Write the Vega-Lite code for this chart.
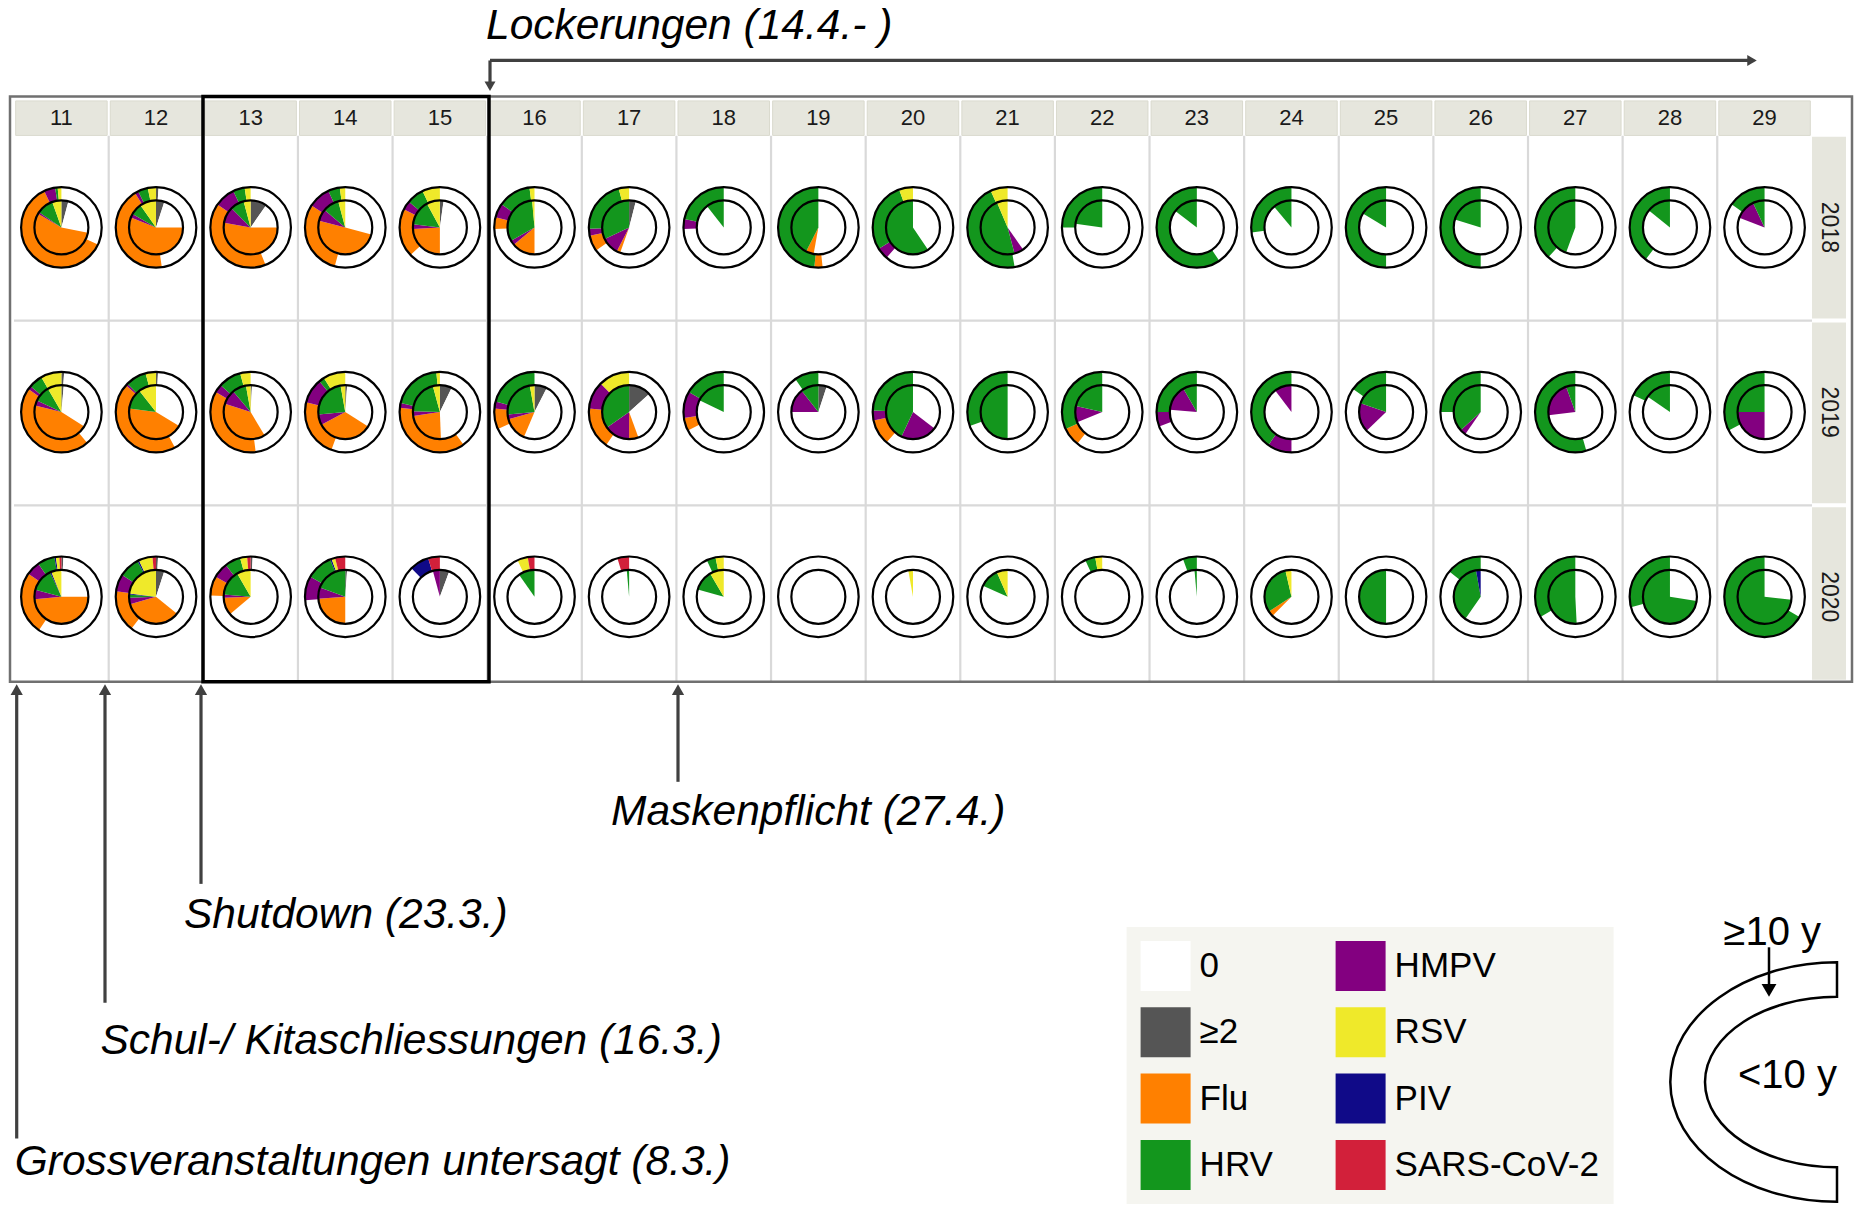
{
"$schema":"https://vega.github.io/schema/vega-lite/v6.json",
"width":1858,"height":1206,"padding":0,
"autosize":{"type":"fit","contains":"padding"},
"background":"white",
"config":{"view":{"stroke":null}},
"datasets":{
"cats":[{"c":"≥2","ord":0},{"c":"0","ord":1},{"c":"Flu","ord":2},{"c":"HMPV","ord":3},{"c":"HRV","ord":4},{"c":"PIV","ord":5},{"c":"RSV","ord":6},{"c":"SARS-CoV-2","ord":7}],
"weeks":[{"w":11},{"w":12},{"w":13},{"w":14},{"w":15},{"w":16},{"w":17},{"w":18},{"w":19},{"w":20},{"w":21},{"w":22},{"w":23},{"w":24},{"w":25},{"w":26},{"w":27},{"w":28},{"w":29}],
"years":[{"yr":2018},{"yr":2019},{"yr":2020}],
"pies":[
{"w":11,"yr":2018,"r":"o","c":"0","v":0.32},{"w":11,"yr":2018,"r":"o","c":"Flu","v":0.61},{"w":11,"yr":2018,"r":"o","c":"HMPV","v":0.045},{"w":11,"yr":2018,"r":"o","c":"HRV","v":0.01},{"w":11,"yr":2018,"r":"o","c":"RSV","v":0.015},
{"w":11,"yr":2018,"r":"i","c":"≥2","v":0.042},{"w":11,"yr":2018,"r":"i","c":"0","v":0.24},{"w":11,"yr":2018,"r":"i","c":"Flu","v":0.553},{"w":11,"yr":2018,"r":"i","c":"HMPV","v":0.01},{"w":11,"yr":2018,"r":"i","c":"HRV","v":0.1},{"w":11,"yr":2018,"r":"i","c":"RSV","v":0.055},
{"w":12,"yr":2018,"r":"o","c":"≥2","v":0.01},{"w":12,"yr":2018,"r":"o","c":"0","v":0.467},{"w":12,"yr":2018,"r":"o","c":"Flu","v":0.436},{"w":12,"yr":2018,"r":"o","c":"HMPV","v":0.014},{"w":12,"yr":2018,"r":"o","c":"HRV","v":0.04},{"w":12,"yr":2018,"r":"o","c":"RSV","v":0.033},
{"w":12,"yr":2018,"r":"i","c":"≥2","v":0.05},{"w":12,"yr":2018,"r":"i","c":"0","v":0.2},{"w":12,"yr":2018,"r":"i","c":"Flu","v":0.56},{"w":12,"yr":2018,"r":"i","c":"HMPV","v":0.022},{"w":12,"yr":2018,"r":"i","c":"HRV","v":0.07},{"w":12,"yr":2018,"r":"i","c":"RSV","v":0.098},
{"w":13,"yr":2018,"r":"o","c":"0","v":0.44},{"w":13,"yr":2018,"r":"o","c":"Flu","v":0.406},{"w":13,"yr":2018,"r":"o","c":"HMPV","v":0.083},{"w":13,"yr":2018,"r":"o","c":"HRV","v":0.047},{"w":13,"yr":2018,"r":"o","c":"RSV","v":0.024},
{"w":13,"yr":2018,"r":"i","c":"≥2","v":0.097},{"w":13,"yr":2018,"r":"i","c":"0","v":0.153},{"w":13,"yr":2018,"r":"i","c":"Flu","v":0.528},{"w":13,"yr":2018,"r":"i","c":"HMPV","v":0.097},{"w":13,"yr":2018,"r":"i","c":"HRV","v":0.083},{"w":13,"yr":2018,"r":"i","c":"RSV","v":0.042},
{"w":14,"yr":2018,"r":"o","c":"0","v":0.542},{"w":14,"yr":2018,"r":"o","c":"Flu","v":0.3},{"w":14,"yr":2018,"r":"o","c":"HMPV","v":0.089},{"w":14,"yr":2018,"r":"o","c":"HRV","v":0.047},{"w":14,"yr":2018,"r":"o","c":"RSV","v":0.022},
{"w":14,"yr":2018,"r":"i","c":"0","v":0.292},{"w":14,"yr":2018,"r":"i","c":"Flu","v":0.497},{"w":14,"yr":2018,"r":"i","c":"HMPV","v":0.072},{"w":14,"yr":2018,"r":"i","c":"HRV","v":0.097},{"w":14,"yr":2018,"r":"i","c":"RSV","v":0.042},
{"w":15,"yr":2018,"r":"o","c":"0","v":0.63},{"w":15,"yr":2018,"r":"o","c":"Flu","v":0.194},{"w":15,"yr":2018,"r":"o","c":"HMPV","v":0.036},{"w":15,"yr":2018,"r":"o","c":"HRV","v":0.069},{"w":15,"yr":2018,"r":"o","c":"RSV","v":0.071},
{"w":15,"yr":2018,"r":"i","c":"≥2","v":0.022},{"w":15,"yr":2018,"r":"i","c":"0","v":0.478},{"w":15,"yr":2018,"r":"i","c":"Flu","v":0.24},{"w":15,"yr":2018,"r":"i","c":"HMPV","v":0.028},{"w":15,"yr":2018,"r":"i","c":"HRV","v":0.153},{"w":15,"yr":2018,"r":"i","c":"RSV","v":0.079},
{"w":16,"yr":2018,"r":"o","c":"0","v":0.744},{"w":16,"yr":2018,"r":"o","c":"Flu","v":0.047},{"w":16,"yr":2018,"r":"o","c":"HMPV","v":0.056},{"w":16,"yr":2018,"r":"o","c":"HRV","v":0.133},{"w":16,"yr":2018,"r":"o","c":"RSV","v":0.02},
{"w":16,"yr":2018,"r":"i","c":"0","v":0.5},{"w":16,"yr":2018,"r":"i","c":"Flu","v":0.139},{"w":16,"yr":2018,"r":"i","c":"HMPV","v":0.028},{"w":16,"yr":2018,"r":"i","c":"HRV","v":0.319},{"w":16,"yr":2018,"r":"i","c":"RSV","v":0.014},
{"w":17,"yr":2018,"r":"o","c":"0","v":0.653},{"w":17,"yr":2018,"r":"o","c":"Flu","v":0.064},{"w":17,"yr":2018,"r":"o","c":"HMPV","v":0.028},{"w":17,"yr":2018,"r":"o","c":"HRV","v":0.213},{"w":17,"yr":2018,"r":"o","c":"RSV","v":0.042},
{"w":17,"yr":2018,"r":"i","c":"≥2","v":0.04},{"w":17,"yr":2018,"r":"i","c":"0","v":0.514},{"w":17,"yr":2018,"r":"i","c":"Flu","v":0.022},{"w":17,"yr":2018,"r":"i","c":"HMPV","v":0.103},{"w":17,"yr":2018,"r":"i","c":"HRV","v":0.321},
{"w":18,"yr":2018,"r":"o","c":"0","v":0.744},{"w":18,"yr":2018,"r":"o","c":"HMPV","v":0.039},{"w":18,"yr":2018,"r":"o","c":"HRV","v":0.217},
{"w":18,"yr":2018,"r":"i","c":"0","v":0.894},{"w":18,"yr":2018,"r":"i","c":"HRV","v":0.106},
{"w":19,"yr":2018,"r":"o","c":"0","v":0.483},{"w":19,"yr":2018,"r":"o","c":"Flu","v":0.033},{"w":19,"yr":2018,"r":"o","c":"HRV","v":0.484},
{"w":19,"yr":2018,"r":"i","c":"0","v":0.528},{"w":19,"yr":2018,"r":"i","c":"Flu","v":0.047},{"w":19,"yr":2018,"r":"i","c":"HRV","v":0.425},
{"w":20,"yr":2018,"r":"o","c":"0","v":0.614},{"w":20,"yr":2018,"r":"o","c":"HMPV","v":0.047},{"w":20,"yr":2018,"r":"o","c":"HRV","v":0.283},{"w":20,"yr":2018,"r":"o","c":"RSV","v":0.056},
{"w":20,"yr":2018,"r":"i","c":"0","v":0.406},{"w":20,"yr":2018,"r":"i","c":"HRV","v":0.594},
{"w":21,"yr":2018,"r":"o","c":"0","v":0.472},{"w":21,"yr":2018,"r":"o","c":"HRV","v":0.459},{"w":21,"yr":2018,"r":"o","c":"RSV","v":0.069},
{"w":21,"yr":2018,"r":"i","c":"0","v":0.403},{"w":21,"yr":2018,"r":"i","c":"HMPV","v":0.056},{"w":21,"yr":2018,"r":"i","c":"HRV","v":0.477},{"w":21,"yr":2018,"r":"i","c":"RSV","v":0.064},
{"w":22,"yr":2018,"r":"o","c":"0","v":0.75},{"w":22,"yr":2018,"r":"o","c":"HRV","v":0.25},
{"w":22,"yr":2018,"r":"i","c":"0","v":0.772},{"w":22,"yr":2018,"r":"i","c":"HRV","v":0.228},
{"w":23,"yr":2018,"r":"o","c":"0","v":0.406},{"w":23,"yr":2018,"r":"o","c":"HRV","v":0.594},
{"w":23,"yr":2018,"r":"i","c":"0","v":0.853},{"w":23,"yr":2018,"r":"i","c":"HRV","v":0.147},
{"w":24,"yr":2018,"r":"o","c":"0","v":0.73},{"w":24,"yr":2018,"r":"o","c":"HRV","v":0.27},
{"w":24,"yr":2018,"r":"i","c":"0","v":0.889},{"w":24,"yr":2018,"r":"i","c":"HRV","v":0.111},
{"w":25,"yr":2018,"r":"o","c":"0","v":0.5},{"w":25,"yr":2018,"r":"o","c":"HRV","v":0.5},
{"w":25,"yr":2018,"r":"i","c":"0","v":0.836},{"w":25,"yr":2018,"r":"i","c":"HRV","v":0.164},
{"w":26,"yr":2018,"r":"o","c":"0","v":0.5},{"w":26,"yr":2018,"r":"o","c":"HRV","v":0.5},
{"w":26,"yr":2018,"r":"i","c":"0","v":0.797},{"w":26,"yr":2018,"r":"i","c":"HRV","v":0.203},
{"w":27,"yr":2018,"r":"o","c":"0","v":0.617},{"w":27,"yr":2018,"r":"o","c":"HRV","v":0.383},
{"w":27,"yr":2018,"r":"i","c":"0","v":0.556},{"w":27,"yr":2018,"r":"i","c":"HRV","v":0.444},
{"w":28,"yr":2018,"r":"o","c":"0","v":0.603},{"w":28,"yr":2018,"r":"o","c":"HRV","v":0.397},
{"w":28,"yr":2018,"r":"i","c":"0","v":0.858},{"w":28,"yr":2018,"r":"i","c":"HRV","v":0.142},
{"w":29,"yr":2018,"r":"o","c":"0","v":0.847},{"w":29,"yr":2018,"r":"o","c":"HRV","v":0.153},
{"w":29,"yr":2018,"r":"i","c":"0","v":0.808},{"w":29,"yr":2018,"r":"i","c":"HMPV","v":0.122},{"w":29,"yr":2018,"r":"i","c":"HRV","v":0.07},
{"w":11,"yr":2019,"r":"o","c":"≥2","v":0.011},{"w":11,"yr":2019,"r":"o","c":"0","v":0.378},{"w":11,"yr":2019,"r":"o","c":"Flu","v":0.458},{"w":11,"yr":2019,"r":"o","c":"HMPV","v":0.014},{"w":11,"yr":2019,"r":"o","c":"HRV","v":0.056},{"w":11,"yr":2019,"r":"o","c":"RSV","v":0.083},
{"w":11,"yr":2019,"r":"i","c":"≥2","v":0.014},{"w":11,"yr":2019,"r":"i","c":"0","v":0.325},{"w":11,"yr":2019,"r":"i","c":"Flu","v":0.45},{"w":11,"yr":2019,"r":"i","c":"HMPV","v":0.031},{"w":11,"yr":2019,"r":"i","c":"HRV","v":0.097},{"w":11,"yr":2019,"r":"i","c":"RSV","v":0.083},
{"w":12,"yr":2019,"r":"o","c":"≥2","v":0.008},{"w":12,"yr":2019,"r":"o","c":"0","v":0.414},{"w":12,"yr":2019,"r":"o","c":"Flu","v":0.444},{"w":12,"yr":2019,"r":"o","c":"HMPV","v":0.008},{"w":12,"yr":2019,"r":"o","c":"HRV","v":0.084},{"w":12,"yr":2019,"r":"o","c":"RSV","v":0.042},
{"w":12,"yr":2019,"r":"i","c":"0","v":0.336},{"w":12,"yr":2019,"r":"i","c":"Flu","v":0.436},{"w":12,"yr":2019,"r":"i","c":"HRV","v":0.122},{"w":12,"yr":2019,"r":"i","c":"RSV","v":0.106},
{"w":13,"yr":2019,"r":"o","c":"0","v":0.48},{"w":13,"yr":2019,"r":"o","c":"Flu","v":0.353},{"w":13,"yr":2019,"r":"o","c":"HMPV","v":0.033},{"w":13,"yr":2019,"r":"o","c":"HRV","v":0.092},{"w":13,"yr":2019,"r":"o","c":"RSV","v":0.042},
{"w":13,"yr":2019,"r":"i","c":"≥2","v":0.008},{"w":13,"yr":2019,"r":"i","c":"0","v":0.406},{"w":13,"yr":2019,"r":"i","c":"Flu","v":0.386},{"w":13,"yr":2019,"r":"i","c":"HMPV","v":0.089},{"w":13,"yr":2019,"r":"i","c":"HRV","v":0.083},{"w":13,"yr":2019,"r":"i","c":"RSV","v":0.028},
{"w":14,"yr":2019,"r":"o","c":"0","v":0.556},{"w":14,"yr":2019,"r":"o","c":"Flu","v":0.233},{"w":14,"yr":2019,"r":"o","c":"HMPV","v":0.1},{"w":14,"yr":2019,"r":"o","c":"HRV","v":0.022},{"w":14,"yr":2019,"r":"o","c":"RSV","v":0.089},
{"w":14,"yr":2019,"r":"i","c":"≥2","v":0.011},{"w":14,"yr":2019,"r":"i","c":"0","v":0.328},{"w":14,"yr":2019,"r":"i","c":"Flu","v":0.333},{"w":14,"yr":2019,"r":"i","c":"HMPV","v":0.064},{"w":14,"yr":2019,"r":"i","c":"HRV","v":0.236},{"w":14,"yr":2019,"r":"i","c":"RSV","v":0.028},
{"w":15,"yr":2019,"r":"o","c":"0","v":0.4},{"w":15,"yr":2019,"r":"o","c":"Flu","v":0.367},{"w":15,"yr":2019,"r":"o","c":"HMPV","v":0.019},{"w":15,"yr":2019,"r":"o","c":"HRV","v":0.2},{"w":15,"yr":2019,"r":"o","c":"RSV","v":0.014},
{"w":15,"yr":2019,"r":"i","c":"≥2","v":0.072},{"w":15,"yr":2019,"r":"i","c":"0","v":0.422},{"w":15,"yr":2019,"r":"i","c":"Flu","v":0.233},{"w":15,"yr":2019,"r":"i","c":"HMPV","v":0.028},{"w":15,"yr":2019,"r":"i","c":"HRV","v":0.203},{"w":15,"yr":2019,"r":"i","c":"RSV","v":0.042},
{"w":16,"yr":2019,"r":"o","c":"0","v":0.681},{"w":16,"yr":2019,"r":"o","c":"Flu","v":0.083},{"w":16,"yr":2019,"r":"o","c":"HMPV","v":0.028},{"w":16,"yr":2019,"r":"o","c":"HRV","v":0.208},
{"w":16,"yr":2019,"r":"i","c":"≥2","v":0.075},{"w":16,"yr":2019,"r":"i","c":"0","v":0.489},{"w":16,"yr":2019,"r":"i","c":"Flu","v":0.144},{"w":16,"yr":2019,"r":"i","c":"HMPV","v":0.028},{"w":16,"yr":2019,"r":"i","c":"HRV","v":0.236},{"w":16,"yr":2019,"r":"i","c":"RSV","v":0.028},
{"w":17,"yr":2019,"r":"o","c":"0","v":0.597},{"w":17,"yr":2019,"r":"o","c":"Flu","v":0.167},{"w":17,"yr":2019,"r":"o","c":"HMPV","v":0.111},{"w":17,"yr":2019,"r":"o","c":"RSV","v":0.125},
{"w":17,"yr":2019,"r":"i","c":"≥2","v":0.133},{"w":17,"yr":2019,"r":"i","c":"0","v":0.311},{"w":17,"yr":2019,"r":"i","c":"Flu","v":0.056},{"w":17,"yr":2019,"r":"i","c":"HMPV","v":0.153},{"w":17,"yr":2019,"r":"i","c":"HRV","v":0.347},
{"w":18,"yr":2019,"r":"o","c":"0","v":0.674},{"w":18,"yr":2019,"r":"o","c":"Flu","v":0.053},{"w":18,"yr":2019,"r":"o","c":"HMPV","v":0.106},{"w":18,"yr":2019,"r":"o","c":"HRV","v":0.167},
{"w":18,"yr":2019,"r":"i","c":"0","v":0.822},{"w":18,"yr":2019,"r":"i","c":"HRV","v":0.178},
{"w":19,"yr":2019,"r":"o","c":"0","v":0.903},{"w":19,"yr":2019,"r":"o","c":"HRV","v":0.097},
{"w":19,"yr":2019,"r":"i","c":"≥2","v":0.05},{"w":19,"yr":2019,"r":"i","c":"0","v":0.7},{"w":19,"yr":2019,"r":"i","c":"HMPV","v":0.144},{"w":19,"yr":2019,"r":"i","c":"HRV","v":0.106},
{"w":20,"yr":2019,"r":"o","c":"0","v":0.614},{"w":20,"yr":2019,"r":"o","c":"Flu","v":0.103},{"w":20,"yr":2019,"r":"o","c":"HMPV","v":0.039},{"w":20,"yr":2019,"r":"o","c":"HRV","v":0.244},
{"w":20,"yr":2019,"r":"i","c":"0","v":0.353},{"w":20,"yr":2019,"r":"i","c":"HMPV","v":0.217},{"w":20,"yr":2019,"r":"i","c":"HRV","v":0.43},
{"w":21,"yr":2019,"r":"o","c":"0","v":0.694},{"w":21,"yr":2019,"r":"o","c":"HRV","v":0.306},
{"w":21,"yr":2019,"r":"i","c":"0","v":0.5},{"w":21,"yr":2019,"r":"i","c":"HRV","v":0.5},
{"w":22,"yr":2019,"r":"o","c":"0","v":0.606},{"w":22,"yr":2019,"r":"o","c":"Flu","v":0.075},{"w":22,"yr":2019,"r":"o","c":"HRV","v":0.319},
{"w":22,"yr":2019,"r":"i","c":"0","v":0.689},{"w":22,"yr":2019,"r":"i","c":"HMPV","v":0.097},{"w":22,"yr":2019,"r":"i","c":"HRV","v":0.214},
{"w":23,"yr":2019,"r":"o","c":"0","v":0.692},{"w":23,"yr":2019,"r":"o","c":"HMPV","v":0.058},{"w":23,"yr":2019,"r":"o","c":"HRV","v":0.25},
{"w":23,"yr":2019,"r":"i","c":"0","v":0.764},{"w":23,"yr":2019,"r":"i","c":"HMPV","v":0.153},{"w":23,"yr":2019,"r":"i","c":"HRV","v":0.083},
{"w":24,"yr":2019,"r":"o","c":"0","v":0.5},{"w":24,"yr":2019,"r":"o","c":"HMPV","v":0.097},{"w":24,"yr":2019,"r":"o","c":"HRV","v":0.403},
{"w":24,"yr":2019,"r":"i","c":"0","v":0.897},{"w":24,"yr":2019,"r":"i","c":"HMPV","v":0.103},
{"w":25,"yr":2019,"r":"o","c":"0","v":0.847},{"w":25,"yr":2019,"r":"o","c":"HRV","v":0.153},
{"w":25,"yr":2019,"r":"i","c":"0","v":0.628},{"w":25,"yr":2019,"r":"i","c":"HMPV","v":0.175},{"w":25,"yr":2019,"r":"i","c":"HRV","v":0.197},
{"w":26,"yr":2019,"r":"o","c":"0","v":0.75},{"w":26,"yr":2019,"r":"o","c":"HRV","v":0.25},
{"w":26,"yr":2019,"r":"i","c":"0","v":0.597},{"w":26,"yr":2019,"r":"i","c":"HMPV","v":0.036},{"w":26,"yr":2019,"r":"i","c":"HRV","v":0.367},
{"w":27,"yr":2019,"r":"o","c":"0","v":0.456},{"w":27,"yr":2019,"r":"o","c":"HRV","v":0.544},
{"w":27,"yr":2019,"r":"i","c":"0","v":0.731},{"w":27,"yr":2019,"r":"i","c":"HMPV","v":0.214},{"w":27,"yr":2019,"r":"i","c":"HRV","v":0.055},
{"w":28,"yr":2019,"r":"o","c":"0","v":0.819},{"w":28,"yr":2019,"r":"o","c":"HRV","v":0.181},
{"w":28,"yr":2019,"r":"i","c":"0","v":0.847},{"w":28,"yr":2019,"r":"i","c":"HRV","v":0.153},
{"w":29,"yr":2019,"r":"o","c":"0","v":0.675},{"w":29,"yr":2019,"r":"o","c":"HRV","v":0.325},
{"w":29,"yr":2019,"r":"i","c":"0","v":0.5},{"w":29,"yr":2019,"r":"i","c":"HMPV","v":0.25},{"w":29,"yr":2019,"r":"i","c":"HRV","v":0.25},
{"w":11,"yr":2020,"r":"o","c":"≥2","v":0.008},{"w":11,"yr":2020,"r":"o","c":"0","v":0.586},{"w":11,"yr":2020,"r":"o","c":"Flu","v":0.253},{"w":11,"yr":2020,"r":"o","c":"HMPV","v":0.056},{"w":11,"yr":2020,"r":"o","c":"HRV","v":0.069},{"w":11,"yr":2020,"r":"o","c":"PIV","v":0.006},{"w":11,"yr":2020,"r":"o","c":"RSV","v":0.014},{"w":11,"yr":2020,"r":"o","c":"SARS-CoV-2","v":0.008},
{"w":11,"yr":2020,"r":"i","c":"0","v":0.25},{"w":11,"yr":2020,"r":"i","c":"Flu","v":0.486},{"w":11,"yr":2020,"r":"i","c":"HMPV","v":0.056},{"w":11,"yr":2020,"r":"i","c":"HRV","v":0.139},{"w":11,"yr":2020,"r":"i","c":"PIV","v":0.008},{"w":11,"yr":2020,"r":"i","c":"RSV","v":0.061},
{"w":12,"yr":2020,"r":"o","c":"≥2","v":0.008},{"w":12,"yr":2020,"r":"o","c":"0","v":0.597},{"w":12,"yr":2020,"r":"o","c":"Flu","v":0.167},{"w":12,"yr":2020,"r":"o","c":"HMPV","v":0.069},{"w":12,"yr":2020,"r":"o","c":"HRV","v":0.083},{"w":12,"yr":2020,"r":"o","c":"PIV","v":0.006},{"w":12,"yr":2020,"r":"o","c":"RSV","v":0.056},{"w":12,"yr":2020,"r":"o","c":"SARS-CoV-2","v":0.014},
{"w":12,"yr":2020,"r":"i","c":"≥2","v":0.05},{"w":12,"yr":2020,"r":"i","c":"0","v":0.308},{"w":12,"yr":2020,"r":"i","c":"Flu","v":0.347},{"w":12,"yr":2020,"r":"i","c":"HMPV","v":0.039},{"w":12,"yr":2020,"r":"i","c":"HRV","v":0.019},{"w":12,"yr":2020,"r":"i","c":"PIV","v":0.006},{"w":12,"yr":2020,"r":"i","c":"RSV","v":0.231},
{"w":13,"yr":2020,"r":"o","c":"≥2","v":0.008},{"w":13,"yr":2020,"r":"o","c":"0","v":0.747},{"w":13,"yr":2020,"r":"o","c":"Flu","v":0.078},{"w":13,"yr":2020,"r":"o","c":"HMPV","v":0.061},{"w":13,"yr":2020,"r":"o","c":"HRV","v":0.064},{"w":13,"yr":2020,"r":"o","c":"RSV","v":0.028},{"w":13,"yr":2020,"r":"o","c":"SARS-CoV-2","v":0.014},
{"w":13,"yr":2020,"r":"i","c":"0","v":0.639},{"w":13,"yr":2020,"r":"i","c":"Flu","v":0.106},{"w":13,"yr":2020,"r":"i","c":"HMPV","v":0.019},{"w":13,"yr":2020,"r":"i","c":"HRV","v":0.153},{"w":13,"yr":2020,"r":"i","c":"RSV","v":0.083},
{"w":14,"yr":2020,"r":"o","c":"0","v":0.736},{"w":14,"yr":2020,"r":"o","c":"HMPV","v":0.097},{"w":14,"yr":2020,"r":"o","c":"HRV","v":0.106},{"w":14,"yr":2020,"r":"o","c":"PIV","v":0.006},{"w":14,"yr":2020,"r":"o","c":"RSV","v":0.014},{"w":14,"yr":2020,"r":"o","c":"SARS-CoV-2","v":0.041},
{"w":14,"yr":2020,"r":"i","c":"≥2","v":0.011},{"w":14,"yr":2020,"r":"i","c":"0","v":0.489},{"w":14,"yr":2020,"r":"i","c":"Flu","v":0.239},{"w":14,"yr":2020,"r":"i","c":"HMPV","v":0.067},{"w":14,"yr":2020,"r":"i","c":"HRV","v":0.194},
{"w":15,"yr":2020,"r":"o","c":"0","v":0.875},{"w":15,"yr":2020,"r":"o","c":"PIV","v":0.078},{"w":15,"yr":2020,"r":"o","c":"SARS-CoV-2","v":0.047},
{"w":15,"yr":2020,"r":"i","c":"≥2","v":0.056},{"w":15,"yr":2020,"r":"i","c":"0","v":0.902},{"w":15,"yr":2020,"r":"i","c":"HMPV","v":0.042},
{"w":16,"yr":2020,"r":"o","c":"0","v":0.931},{"w":16,"yr":2020,"r":"o","c":"RSV","v":0.042},{"w":16,"yr":2020,"r":"o","c":"SARS-CoV-2","v":0.027},
{"w":16,"yr":2020,"r":"i","c":"0","v":0.903},{"w":16,"yr":2020,"r":"i","c":"HRV","v":0.097},
{"w":17,"yr":2020,"r":"o","c":"0","v":0.953},{"w":17,"yr":2020,"r":"o","c":"SARS-CoV-2","v":0.047},
{"w":17,"yr":2020,"r":"i","c":"0","v":0.986},{"w":17,"yr":2020,"r":"i","c":"HRV","v":0.014},
{"w":18,"yr":2020,"r":"o","c":"0","v":0.931},{"w":18,"yr":2020,"r":"o","c":"HRV","v":0.036},{"w":18,"yr":2020,"r":"o","c":"RSV","v":0.033},
{"w":18,"yr":2020,"r":"i","c":"0","v":0.794},{"w":18,"yr":2020,"r":"i","c":"HRV","v":0.122},{"w":18,"yr":2020,"r":"i","c":"RSV","v":0.084},
{"w":19,"yr":2020,"r":"o","c":"0","v":1},
{"w":19,"yr":2020,"r":"i","c":"0","v":1},
{"w":20,"yr":2020,"r":"o","c":"0","v":1},
{"w":20,"yr":2020,"r":"i","c":"0","v":0.972},{"w":20,"yr":2020,"r":"i","c":"RSV","v":0.028},
{"w":21,"yr":2020,"r":"o","c":"0","v":1},
{"w":21,"yr":2020,"r":"i","c":"0","v":0.817},{"w":21,"yr":2020,"r":"i","c":"HRV","v":0.117},{"w":21,"yr":2020,"r":"i","c":"RSV","v":0.066},
{"w":22,"yr":2020,"r":"o","c":"0","v":0.931},{"w":22,"yr":2020,"r":"o","c":"HRV","v":0.041},{"w":22,"yr":2020,"r":"o","c":"RSV","v":0.028},
{"w":22,"yr":2020,"r":"i","c":"0","v":1},
{"w":23,"yr":2020,"r":"o","c":"0","v":0.944},{"w":23,"yr":2020,"r":"o","c":"HRV","v":0.056},
{"w":23,"yr":2020,"r":"i","c":"0","v":0.986},{"w":23,"yr":2020,"r":"i","c":"HRV","v":0.014},
{"w":24,"yr":2020,"r":"o","c":"0","v":1},
{"w":24,"yr":2020,"r":"i","c":"0","v":0.625},{"w":24,"yr":2020,"r":"i","c":"Flu","v":0.033},{"w":24,"yr":2020,"r":"i","c":"HRV","v":0.306},{"w":24,"yr":2020,"r":"i","c":"RSV","v":0.036},
{"w":25,"yr":2020,"r":"o","c":"0","v":1},
{"w":25,"yr":2020,"r":"i","c":"0","v":0.5},{"w":25,"yr":2020,"r":"i","c":"HRV","v":0.5},
{"w":26,"yr":2020,"r":"o","c":"0","v":0.858},{"w":26,"yr":2020,"r":"o","c":"HRV","v":0.142},
{"w":26,"yr":2020,"r":"i","c":"0","v":0.597},{"w":26,"yr":2020,"r":"i","c":"HRV","v":0.375},{"w":26,"yr":2020,"r":"i","c":"PIV","v":0.028},
{"w":27,"yr":2020,"r":"o","c":"0","v":0.667},{"w":27,"yr":2020,"r":"o","c":"HRV","v":0.333},
{"w":27,"yr":2020,"r":"i","c":"0","v":0.492},{"w":27,"yr":2020,"r":"i","c":"HRV","v":0.508},
{"w":28,"yr":2020,"r":"o","c":"0","v":0.708},{"w":28,"yr":2020,"r":"o","c":"HRV","v":0.292},
{"w":28,"yr":2020,"r":"i","c":"0","v":0.275},{"w":28,"yr":2020,"r":"i","c":"HRV","v":0.725},
{"w":29,"yr":2020,"r":"o","c":"0","v":0.333},{"w":29,"yr":2020,"r":"o","c":"HRV","v":0.667},
{"w":29,"yr":2020,"r":"i","c":"0","v":0.267},{"w":29,"yr":2020,"r":"i","c":"HRV","v":0.733}
]},
"layer":[
{"data":{"name":"weeks"},"transform":[{"filter":"datum.w < 29"}],
 "mark":{"type":"rule","xOffset":47.31,"stroke":"#d9d9d9","strokeWidth":2.2},
 "encoding":{"x":{"field":"w","type":"quantitative","scale":{"domain":[10.3511,29.9875],"nice":false,"zero":false},"axis":null},
  "y":{"datum":2017.5038,"type":"quantitative","scale":{"domain":[2016.7688,2023.2388],"reverse":true,"nice":false,"zero":false},"axis":null},
  "y2":{"datum":2020.4598}}},
{"data":{"name":"years"},"transform":[{"filter":"datum.yr < 2020"}],
 "mark":{"type":"rule","yOffset":93.2,"stroke":"#d9d9d9","strokeWidth":2.2},
 "encoding":{"y":{"field":"yr","type":"quantitative","scale":{"domain":[2016.7688,2023.2388],"reverse":true,"nice":false,"zero":false},"axis":null},
  "x":{"datum":10.4991,"type":"quantitative","scale":{"domain":[10.3511,29.9875],"nice":false,"zero":false},"axis":null},
  "x2":{"datum":29.5014}}},
{"data":{"name":"weeks"},
 "mark":{"type":"rect","width":91.5,"height":34.5,"fill":"#e6e6dd","stroke":"#dadace","strokeWidth":1},
 "encoding":{"x":{"field":"w","type":"quantitative","scale":{"domain":[10.3511,29.9875],"nice":false,"zero":false},"axis":null},
  "y":{"datum":2017.4086,"type":"quantitative","scale":{"domain":[2016.7688,2023.2388],"reverse":true,"nice":false,"zero":false},"axis":null}}},
{"data":{"name":"weeks"},
 "mark":{"type":"text","font":"Liberation Sans","fontSize":22,"color":"#1a1a1a","align":"center","baseline":"middle"},
 "encoding":{"x":{"field":"w","type":"quantitative","scale":{"domain":[10.3511,29.9875],"nice":false,"zero":false},"axis":null},
  "y":{"datum":2017.4086,"type":"quantitative","scale":{"domain":[2016.7688,2023.2388],"reverse":true,"nice":false,"zero":false},"axis":null},
  "text":{"field":"w","type":"nominal"}}},
{"data":{"values":[{}]},
 "mark":{"type":"rect","fill":"#e6e6dd"},
 "encoding":{"x":{"datum":29.5014,"type":"quantitative","scale":{"domain":[10.3511,29.9875],"nice":false,"zero":false},"axis":null},"x2":{"datum":29.8607},
  "y":{"datum":2017.5091,"type":"quantitative","scale":{"domain":[2016.7688,2023.2388],"reverse":true,"nice":false,"zero":false},"axis":null},"y2":{"datum":2020.4491}}},
{"data":{"name":"years"},"transform":[{"filter":"datum.yr < 2020"}],
 "mark":{"type":"rule","yOffset":93.2,"stroke":"#ffffff","strokeWidth":4},
 "encoding":{"y":{"field":"yr","type":"quantitative","scale":{"domain":[2016.7688,2023.2388],"reverse":true,"nice":false,"zero":false},"axis":null},
  "x":{"datum":29.5014,"type":"quantitative","scale":{"domain":[10.3511,29.9875],"nice":false,"zero":false},"axis":null},
  "x2":{"datum":29.8607}}},
{"data":{"name":"years"},
 "mark":{"type":"text","font":"Liberation Sans","fontSize":23,"color":"#1a1a1a","align":"center","baseline":"middle","angle":90},
 "encoding":{"x":{"datum":29.6811,"type":"quantitative","scale":{"domain":[10.3511,29.9875],"nice":false,"zero":false},"axis":null},
  "y":{"field":"yr","type":"quantitative","scale":{"domain":[2016.7688,2023.2388],"reverse":true,"nice":false,"zero":false},"axis":null},
  "text":{"field":"yr","type":"nominal"}}},
{"data":{"name":"pies"},
 "transform":[{"filter":"datum.r === 'o'"},{"lookup":"c","from":{"data":{"name":"cats"},"key":"c","fields":["ord"]}},
  {"stack":"v","groupby":["w","yr"],"sort":[{"field":"ord","order":"ascending"}],"as":["t0","t1"],"offset":"normalize"}],
 "mark":{"type":"arc","radius":40.3,"radius2":27},
 "encoding":{"x":{"field":"w","type":"quantitative","scale":{"domain":[10.3511,29.9875],"nice":false,"zero":false},"axis":null},
  "y":{"field":"yr","type":"quantitative","scale":{"domain":[2016.7688,2023.2388],"reverse":true,"nice":false,"zero":false},"axis":null},
  "theta":{"field":"t0","type":"quantitative","scale":{"domain":[0,1],"range":[0,6.283185]},"stack":null},
  "theta2":{"field":"t1"},
  "color":{"field":"c","type":"nominal",
   "scale":{"domain":["0","≥2","Flu","HRV","HMPV","RSV","PIV","SARS-CoV-2"],"range":["#ffffff","#555555","#ff8000","#13961d","#830080","#efe92a","#100a88","#d2203a"]},
   "legend":{"title":null,"orient":"none","legendX":1126.6,"legendY":927,"columns":2,"symbolType":"square","symbolSize":2500,"symbolStrokeWidth":0,"symbolOpacity":1,"labelFont":"Liberation Sans","labelFontSize":35,"labelColor":"#000000","labelOffset":9,"rowPadding":16.3,"columnPadding":62,"padding":14,"fillColor":"#f5f5f0","labelLimit":400}}}},
{"data":{"name":"pies"},
 "transform":[{"filter":"datum.r === 'i'"},{"lookup":"c","from":{"data":{"name":"cats"},"key":"c","fields":["ord"]}},
  {"stack":"v","groupby":["w","yr"],"sort":[{"field":"ord","order":"ascending"}],"as":["t0","t1"],"offset":"normalize"}],
 "mark":{"type":"arc","radius":27,"radius2":0},
 "encoding":{"x":{"field":"w","type":"quantitative","scale":{"domain":[10.3511,29.9875],"nice":false,"zero":false},"axis":null},
  "y":{"field":"yr","type":"quantitative","scale":{"domain":[2016.7688,2023.2388],"reverse":true,"nice":false,"zero":false},"axis":null},
  "theta":{"field":"t0","type":"quantitative","scale":{"domain":[0,1],"range":[0,6.283185]},"stack":null},
  "theta2":{"field":"t1"},
  "color":{"field":"c","type":"nominal",
   "scale":{"domain":["0","≥2","Flu","HRV","HMPV","RSV","PIV","SARS-CoV-2"],"range":["#ffffff","#555555","#ff8000","#13961d","#830080","#efe92a","#100a88","#d2203a"]},
   "legend":{"title":null,"orient":"none","legendX":1126.6,"legendY":927,"columns":2,"symbolType":"square","symbolSize":2500,"symbolStrokeWidth":0,"symbolOpacity":1,"labelFont":"Liberation Sans","labelFontSize":35,"labelColor":"#000000","labelOffset":9,"rowPadding":16.3,"columnPadding":62,"padding":14,"fillColor":"#f5f5f0","labelLimit":400}}}},
{"data":{"name":"pies"},"transform":[{"aggregate":[{"op":"count","as":"n"}],"groupby":["w","yr"]}],
 "mark":{"type":"point","shape":"circle","size":6496,"filled":false,"stroke":"#000000","strokeWidth":2.2,"opacity":1},
 "encoding":{"x":{"field":"w","type":"quantitative","scale":{"domain":[10.3511,29.9875],"nice":false,"zero":false},"axis":null},
  "y":{"field":"yr","type":"quantitative","scale":{"domain":[2016.7688,2023.2388],"reverse":true,"nice":false,"zero":false},"axis":null}}},
{"data":{"name":"pies"},"transform":[{"aggregate":[{"op":"count","as":"n"}],"groupby":["w","yr"]}],
 "mark":{"type":"point","shape":"circle","size":2916,"filled":false,"stroke":"#000000","strokeWidth":2.2,"opacity":1},
 "encoding":{"x":{"field":"w","type":"quantitative","scale":{"domain":[10.3511,29.9875],"nice":false,"zero":false},"axis":null},
  "y":{"field":"yr","type":"quantitative","scale":{"domain":[2016.7688,2023.2388],"reverse":true,"nice":false,"zero":false},"axis":null}}},
{"data":{"values":[{}]},
 "mark":{"type":"rect","fillOpacity":0,"stroke":"#707070","strokeWidth":2.5},
 "encoding":{"x":{"datum":10.4568,"type":"quantitative","scale":{"domain":[10.3511,29.9875],"nice":false,"zero":false},"axis":null},"x2":{"datum":29.9241},
  "y":{"datum":2017.2919,"type":"quantitative","scale":{"domain":[2016.7688,2023.2388],"reverse":true,"nice":false,"zero":false},"axis":null},"y2":{"datum":2020.4598}}},
{"data":{"values":[{}]},
 "mark":{"type":"rect","fillOpacity":0,"stroke":"#000000","strokeWidth":3.5},
 "encoding":{"x":{"datum":12.4965,"type":"quantitative","scale":{"domain":[10.3511,29.9875],"nice":false,"zero":false},"axis":null},"x2":{"datum":15.5191},
  "y":{"datum":2017.2919,"type":"quantitative","scale":{"domain":[2016.7688,2023.2388],"reverse":true,"nice":false,"zero":false},"axis":null},"y2":{"datum":2020.4598}}},
{"data":{"values":[{}]},"mark":{"type":"rule","stroke":"#404040","strokeWidth":3.2},
 "encoding":{"x":{"datum":15.5297,"type":"quantitative","scale":{"domain":[10.3511,29.9875],"nice":false,"zero":false},"axis":null},
  "y":{"datum":2017.0961,"type":"quantitative","scale":{"domain":[2016.7688,2023.2388],"reverse":true,"nice":false,"zero":false},"axis":null},"y2":{"datum":2017.2355}}},
{"data":{"values":[{}]},"mark":{"type":"rule","stroke":"#404040","strokeWidth":3.2},
 "encoding":{"x":{"datum":15.5297,"type":"quantitative","scale":{"domain":[10.3511,29.9875],"nice":false,"zero":false},"axis":null},"x2":{"datum":28.8673},
  "y":{"datum":2017.0961,"type":"quantitative","scale":{"domain":[2016.7688,2023.2388],"reverse":true,"nice":false,"zero":false},"axis":null}}},
{"data":{"values":[{}]},"mark":{"type":"point","shape":"triangle-down","size":120,"filled":true,"color":"#404040","opacity":1},
 "encoding":{"x":{"datum":15.5297,"type":"quantitative","scale":{"domain":[10.3511,29.9875],"nice":false,"zero":false},"axis":null},
  "y":{"datum":2017.2355,"type":"quantitative","scale":{"domain":[2016.7688,2023.2388],"reverse":true,"nice":false,"zero":false},"axis":null}}},
{"data":{"values":[{}]},"mark":{"type":"point","shape":"triangle-right","size":120,"filled":true,"color":"#404040","opacity":1},
 "encoding":{"x":{"datum":28.8673,"type":"quantitative","scale":{"domain":[10.3511,29.9875],"nice":false,"zero":false},"axis":null},
  "y":{"datum":2017.0961,"type":"quantitative","scale":{"domain":[2016.7688,2023.2388],"reverse":true,"nice":false,"zero":false},"axis":null}}},
{"data":{"values":[{}]},"mark":{"type":"rule","stroke":"#404040","strokeWidth":3.2},
 "encoding":{"x":{"datum":10.5276,"type":"quantitative","scale":{"domain":[10.3511,29.9875],"nice":false,"zero":false},"axis":null},
  "y":{"datum":2020.5027,"type":"quantitative","scale":{"domain":[2016.7688,2023.2388],"reverse":true,"nice":false,"zero":false},"axis":null},"y2":{"datum":2022.933}}},
{"data":{"values":[{}]},"mark":{"type":"rule","stroke":"#404040","strokeWidth":3.2},
 "encoding":{"x":{"datum":11.4608,"type":"quantitative","scale":{"domain":[10.3511,29.9875],"nice":false,"zero":false},"axis":null},
  "y":{"datum":2020.5027,"type":"quantitative","scale":{"domain":[2016.7688,2023.2388],"reverse":true,"nice":false,"zero":false},"axis":null},"y2":{"datum":2022.198}}},
{"data":{"values":[{}]},"mark":{"type":"rule","stroke":"#404040","strokeWidth":3.2},
 "encoding":{"x":{"datum":12.4754,"type":"quantitative","scale":{"domain":[10.3511,29.9875],"nice":false,"zero":false},"axis":null},
  "y":{"datum":2020.5027,"type":"quantitative","scale":{"domain":[2016.7688,2023.2388],"reverse":true,"nice":false,"zero":false},"axis":null},"y2":{"datum":2021.5543}}},
{"data":{"values":[{}]},"mark":{"type":"rule","stroke":"#404040","strokeWidth":3.2},
 "encoding":{"x":{"datum":17.5166,"type":"quantitative","scale":{"domain":[10.3511,29.9875],"nice":false,"zero":false},"axis":null},
  "y":{"datum":2020.5027,"type":"quantitative","scale":{"domain":[2016.7688,2023.2388],"reverse":true,"nice":false,"zero":false},"axis":null},"y2":{"datum":2021.0017}}},
{"data":{"values":[{}]},"mark":{"type":"point","shape":"triangle-up","size":150,"filled":true,"color":"#404040","opacity":1},
 "encoding":{"x":{"datum":10.5276,"type":"quantitative","scale":{"domain":[10.3511,29.9875],"nice":false,"zero":false},"axis":null},
  "y":{"datum":2020.5027,"type":"quantitative","scale":{"domain":[2016.7688,2023.2388],"reverse":true,"nice":false,"zero":false},"axis":null}}},
{"data":{"values":[{}]},"mark":{"type":"point","shape":"triangle-up","size":150,"filled":true,"color":"#404040","opacity":1},
 "encoding":{"x":{"datum":11.4608,"type":"quantitative","scale":{"domain":[10.3511,29.9875],"nice":false,"zero":false},"axis":null},
  "y":{"datum":2020.5027,"type":"quantitative","scale":{"domain":[2016.7688,2023.2388],"reverse":true,"nice":false,"zero":false},"axis":null}}},
{"data":{"values":[{}]},"mark":{"type":"point","shape":"triangle-up","size":150,"filled":true,"color":"#404040","opacity":1},
 "encoding":{"x":{"datum":12.4754,"type":"quantitative","scale":{"domain":[10.3511,29.9875],"nice":false,"zero":false},"axis":null},
  "y":{"datum":2020.5027,"type":"quantitative","scale":{"domain":[2016.7688,2023.2388],"reverse":true,"nice":false,"zero":false},"axis":null}}},
{"data":{"values":[{}]},"mark":{"type":"point","shape":"triangle-up","size":150,"filled":true,"color":"#404040","opacity":1},
 "encoding":{"x":{"datum":17.5166,"type":"quantitative","scale":{"domain":[10.3511,29.9875],"nice":false,"zero":false},"axis":null},
  "y":{"datum":2020.5027,"type":"quantitative","scale":{"domain":[2016.7688,2023.2388],"reverse":true,"nice":false,"zero":false},"axis":null}}},
{"data":{"values":[{}]},"mark":{"type":"text","text":"Lockerungen (14.4.- )","font":"Liberation Sans","fontStyle":"italic","fontSize":42.5,"align":"left","baseline":"alphabetic","color":"#000000"},
 "encoding":{"x":{"datum":15.4874,"type":"quantitative","scale":{"domain":[10.3511,29.9875],"nice":false,"zero":false},"axis":null},
  "y":{"datum":2016.978,"type":"quantitative","scale":{"domain":[2016.7688,2023.2388],"reverse":true,"nice":false,"zero":false},"axis":null}}},
{"data":{"values":[{}]},"mark":{"type":"text","text":"Maskenpflicht (27.4.)","font":"Liberation Sans","fontStyle":"italic","fontSize":42.5,"align":"left","baseline":"alphabetic","color":"#000000"},
 "encoding":{"x":{"datum":16.8085,"type":"quantitative","scale":{"domain":[10.3511,29.9875],"nice":false,"zero":false},"axis":null},
  "y":{"datum":2021.2377,"type":"quantitative","scale":{"domain":[2016.7688,2023.2388],"reverse":true,"nice":false,"zero":false},"axis":null}}},
{"data":{"values":[{}]},"mark":{"type":"text","text":"Shutdown (23.3.)","font":"Liberation Sans","fontStyle":"italic","fontSize":42.5,"align":"left","baseline":"alphabetic","color":"#000000"},
 "encoding":{"x":{"datum":12.2957,"type":"quantitative","scale":{"domain":[10.3511,29.9875],"nice":false,"zero":false},"axis":null},
  "y":{"datum":2021.7957,"type":"quantitative","scale":{"domain":[2016.7688,2023.2388],"reverse":true,"nice":false,"zero":false},"axis":null}}},
{"data":{"values":[{}]},"mark":{"type":"text","text":"Schul-/ Kitaschliessungen (16.3.)","font":"Liberation Sans","fontStyle":"italic","fontSize":42.5,"align":"left","baseline":"alphabetic","color":"#000000"},
 "encoding":{"x":{"datum":11.4132,"type":"quantitative","scale":{"domain":[10.3511,29.9875],"nice":false,"zero":false},"axis":null},
  "y":{"datum":2022.477,"type":"quantitative","scale":{"domain":[2016.7688,2023.2388],"reverse":true,"nice":false,"zero":false},"axis":null}}},
{"data":{"values":[{}]},"mark":{"type":"text","text":"Grossveranstaltungen untersagt (8.3.)","font":"Liberation Sans","fontStyle":"italic","fontSize":42.5,"align":"left","baseline":"alphabetic","color":"#000000"},
 "encoding":{"x":{"datum":10.5065,"type":"quantitative","scale":{"domain":[10.3511,29.9875],"nice":false,"zero":false},"axis":null},
  "y":{"datum":2023.1315,"type":"quantitative","scale":{"domain":[2016.7688,2023.2388],"reverse":true,"nice":false,"zero":false},"axis":null}}},
{"data":{"values":[{}]},"mark":{"type":"point","shape":"M0,-1.197C-0.9207,-1.197,-1.667,-0.6611,-1.667,0C-1.667,0.6611,-0.9207,1.197,0,1.197L0,0.853C-0.729,0.853,-1.32,0.4711,-1.32,0C-1.32,-0.4711,-0.729,-0.853,0,-0.853Z","size":40000,"filled":true,"fill":"#ffffff","stroke":"#000000","strokeWidth":2.5,"opacity":1},
 "encoding":{"x":{"datum":29.7656,"type":"quantitative","scale":{"domain":[10.3511,29.9875],"nice":false,"zero":false},"axis":null},
  "y":{"datum":2022.6272,"type":"quantitative","scale":{"domain":[2016.7688,2023.2388],"reverse":true,"nice":false,"zero":false},"axis":null}}},
{"data":{"values":[{}]},"mark":{"type":"rule","stroke":"#000000","strokeWidth":2.5},
 "encoding":{"x":{"datum":29.0469,"type":"quantitative","scale":{"domain":[10.3511,29.9875],"nice":false,"zero":false},"axis":null},
  "y":{"datum":2021.8977,"type":"quantitative","scale":{"domain":[2016.7688,2023.2388],"reverse":true,"nice":false,"zero":false},"axis":null},"y2":{"datum":2022.131}}},
{"data":{"values":[{}]},"mark":{"type":"point","shape":"triangle-down","size":220,"filled":true,"color":"#000000","opacity":1},
 "encoding":{"x":{"datum":29.0469,"type":"quantitative","scale":{"domain":[10.3511,29.9875],"nice":false,"zero":false},"axis":null},
  "y":{"datum":2022.131,"type":"quantitative","scale":{"domain":[2016.7688,2023.2388],"reverse":true,"nice":false,"zero":false},"axis":null}}},
{"data":{"values":[{}]},"mark":{"type":"text","text":"≥10 y","font":"Liberation Sans","fontSize":40,"align":"left","baseline":"alphabetic","color":"#000000"},
 "encoding":{"x":{"datum":28.566,"type":"quantitative","scale":{"domain":[10.3511,29.9875],"nice":false,"zero":false},"axis":null},
  "y":{"datum":2021.8833,"type":"quantitative","scale":{"domain":[2016.7688,2023.2388],"reverse":true,"nice":false,"zero":false},"axis":null}}},
{"data":{"values":[{}]},"mark":{"type":"text","text":"<10 y","font":"Liberation Sans","fontSize":40,"align":"left","baseline":"alphabetic","color":"#000000"},
 "encoding":{"x":{"datum":28.7193,"type":"quantitative","scale":{"domain":[10.3511,29.9875],"nice":false,"zero":false},"axis":null},
  "y":{"datum":2022.6595,"type":"quantitative","scale":{"domain":[2016.7688,2023.2388],"reverse":true,"nice":false,"zero":false},"axis":null}}}
]
}
